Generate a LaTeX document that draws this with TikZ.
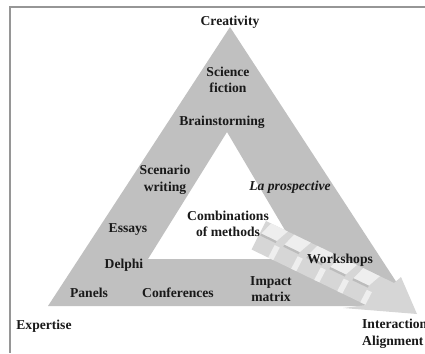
\documentclass[tikz,border=0pt]{standalone}
\usepackage{fontspec}
\setmainfont{Liberation Serif}
\usetikzlibrary{calc}
\definecolor{ringgray}{RGB}{192,192,192}
\definecolor{arrowgray}{RGB}{214,214,214}
\definecolor{hilite}{RGB}{238,238,238}
\definecolor{shadegray}{RGB}{188,188,188}
\definecolor{framegray}{RGB}{150,150,150}
\begin{document}
\begin{tikzpicture}[x=1pt,y=-1pt,
  lbl/.style={font=\fontsize{13.6}{16.5}\selectfont\bfseries, align=center, inner sep=0pt, text=black!90},
  ilbl/.style={lbl, font=\fontsize{13.6}{16.5}\selectfont\bfseries\itshape}]
\useasboundingbox (0,0) rectangle (425,353);
\clip (0,0) rectangle (425,353);
% frame
\draw[framegray, line width=1.2pt] (425,7) -- (10,7) -- (10,353);
% triangle ring
\fill[ringgray, even odd rule] (230,27) -- (48,306) -- (412,306) -- cycle
  (227,132) -- (148,259) -- (302,259) -- cycle;
% arrow
\coordinate (U0) at (266,221);
\coordinate (U1) at (394,283);
\coordinate (B1) at (401,277);
\coordinate (T) at (417,314);
\coordinate (B2) at (343,308);
\coordinate (L1) at (366,305);
\coordinate (L0) at (251.5,249.5);
\fill[arrowgray] (U0) -- (U1) -- (B1) -- (T) -- (B2) -- (L1) -- (L0) -- cycle;
% staircase blocks: light top faces with soft shadows
\foreach \t [evaluate=\t as \tb using \t+0.13,
             evaluate=\t as \tc using \t+0.09,
             evaluate=\t as \td using \t-0.03] in {0.04,0.22,0.40,0.58,0.76}{
  \fill[hilite] ($(U0)!\t!(U1)$) -- ($(U0)!\tb!(U1)$)
     -- ($(U0)!\tc!(U1)+(-6,12)$) -- ($(U0)!\td!(U1)+(-6,12)$) -- cycle;
  \fill[shadegray] ($(U0)!\td!(U1)+(-6,12)$) -- ($(U0)!\tc!(U1)+(-6,12)$)
     -- ($(U0)!\tc!(U1)+(-7,14)$) -- ($(U0)!\td!(U1)+(-7,14)$) -- cycle;
  \fill[hilite] ($(U0)!\tc!(U1)+(-8,16)$) -- ($(U0)!\tc!(U1)+(-14.5,28.5)$)
     -- ($(U0)!\tb!(U1)+(-14.5,28.5)$) -- ($(U0)!\tb!(U1)+(-8,16)$) -- cycle;
}
% labels
\node[lbl] (creativity) at (230,22) {Creativity};
\node[lbl] (scifi) at (228,80) {Science\\fiction};
\node[lbl] (brain) at (222,122) {Brainstorming};
\node[lbl] (scen) at (165,180) {Scenario\\writing};
\node[ilbl] (lap) at (290,187) {La prospective};
\node[lbl] (comb) at (228,224) {Combinations\\of methods};
\node[lbl] (essays) at (128,230) {Essays};
\node[lbl] (delphi) at (124,265) {Delphi};
\node[lbl] (panels) at (89,293) {Panels};
\node[lbl] (conf) at (178,293) {Conferences};
\node[lbl] (impact) at (271,289) {Impact\\matrix};
\node[lbl] (work) at (340,260) {Workshops};
\node[lbl] (exp) at (44,326) {Expertise};
\node[lbl, anchor=west, align=left] (inter) at (362,334) {Interaction\\Alignment};
\end{tikzpicture}
\end{document}
